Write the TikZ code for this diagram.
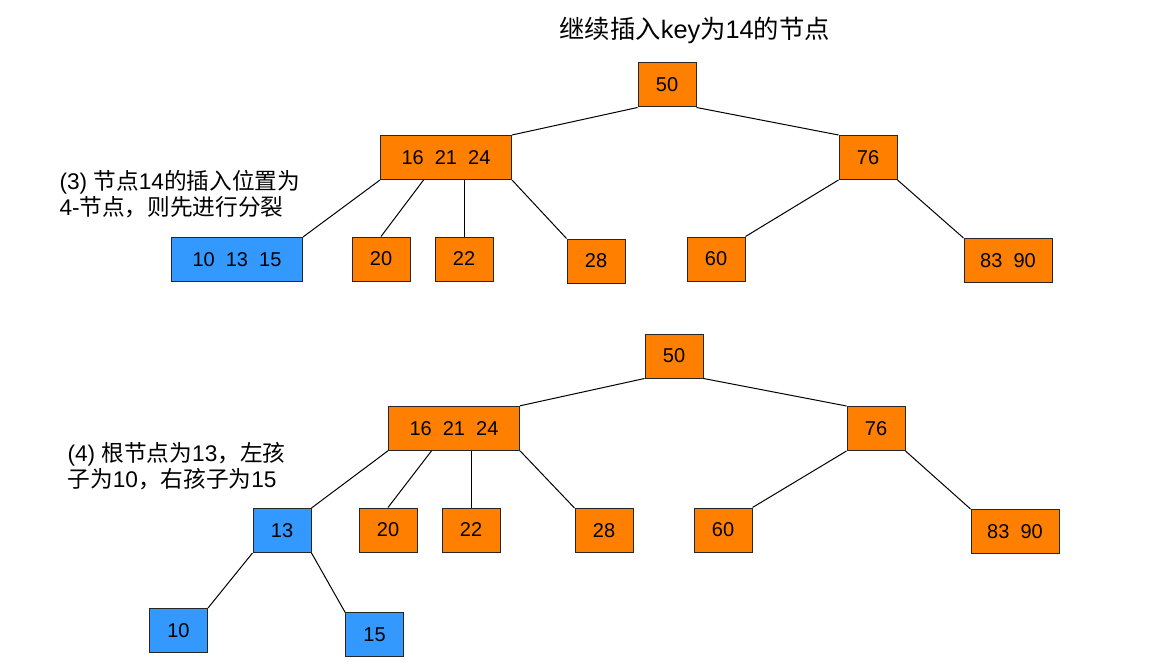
\documentclass[tikz,border=0pt]{standalone}
\usepackage{fontspec}
\setmainfont{Liberation Sans}
\newfontfamily\cjk{Noto Sans CJK SC}
\newcommand{\zh}[1]{{\cjk #1}}
\usepackage{tikz}
\usetikzlibrary{positioning}
\usetikzlibrary{calc}
\definecolor{keyorange}{HTML}{FF8000}
\definecolor{keyblue}{HTML}{3399FF}
\begin{document}
\begin{tikzpicture}
        [x=0.75pt, y=-0.75pt, line width=0.75pt,
         key/.style={draw=black!85, fill=keyorange, minimum width=43.5pt,
           minimum height=33pt, inner sep=0pt, font=\fontsize{15}{18}\selectfont},
         newkey/.style={key, fill=keyblue},
         wide/.style={minimum width=98.25pt},
         note/.style={align=left, anchor=north west, inner sep=0pt,
           font=\fontsize{17}{19.5}\selectfont}]
      \useasboundingbox[fill=white] (0,0) rectangle (1169,670);
      \node[anchor=base west, inner sep=0pt, font=\fontsize{19}{22}\selectfont]
        (title) at (559,39) {\zh{继续插入}key\zh{为}14\zh{的节点}};
      % (3) before the split
      \node[key]  (t50)  at (667,85) {50};
      \node[key, wide]  (t162124)  at (446,157.5) {16~~21~~24};
      \node[key]  (t76)  at (868,157.5) {76};
      \node[newkey, wide]  (t101315)  at (237,259.5) {10~~13~~15};
      \node[key]  (t20)  at (381,259) {20};
      \node[key]  (t22)  at (464,259) {22};
      \node[key]  (t28)  at (596,261) {28};
      \node[key]  (t60)  at (716,259) {60};
      \node[key, minimum width=66pt]  (t8390)  at (1008,260.5) {83~~90};
      \node[note]  (n3)  at (59,170) {(3) \zh{节点}14\zh{的插入位置为}\\4-\zh{节点，则先进行分裂}};
      \draw (t50.south west) -- (t162124.north east);
      \draw (t50.south east) -- (t76.north west);
      \draw (t162124.south west) -- (t101315.north east);
      \draw ($(t162124.south west)!0.33!(t162124.south east)$) -- (t20.north);
      \draw (t22.north) -- (t22.north |- t162124.south);
      \draw (t162124.south east) -- (t28.north west);
      \draw (t76.south west) -- (t60.north east);
      \draw (t76.south east) -- (t8390.north west);
      % (4) after the split
      \node[key]  (b50)  at (674,356) {50};
      \node[key, wide]  (b162124)  at (454,428.3) {16~~21~~24};
      \node[key]  (b76)  at (876,428.5) {76};
      \node[newkey]  (b13)  at (282,530.5) {13};
      \node[key]  (b20)  at (388,530) {20};
      \node[key]  (b22)  at (471,530) {22};
      \node[key]  (b28)  at (604,530.5) {28};
      \node[key]  (b60)  at (723,530) {60};
      \node[key, minimum width=66pt]  (b8390)  at (1015,531.5) {83~~90};
      \node[newkey]  (b10)  at (178.5,630.5) {10};
      \node[newkey]  (b15)  at (374.6,634.8) {15};
      \node[note]  (n4)  at (67,442) {(4) \zh{根节点为}13\zh{，左孩}\\\zh{子为}10\zh{，右孩子为}15};
      \draw (b50.south west) -- (b162124.north east);
      \draw (b50.south east) -- (b76.north west);
      \draw (b162124.south west) -- (b13.north east);
      \draw ($(b162124.south west)!0.33!(b162124.south east)$) -- (b20.north);
      \draw (b22.north) -- (b22.north |- b162124.south);
      \draw (b162124.south east) -- (b28.north west);
      \draw (b76.south west) -- (b60.north east);
      \draw (b76.south east) -- (b8390.north west);
      \draw (b13.south west) -- (b10.north east);
      \draw (b13.south east) -- (b15.north west);
\end{tikzpicture}
\end{document}
